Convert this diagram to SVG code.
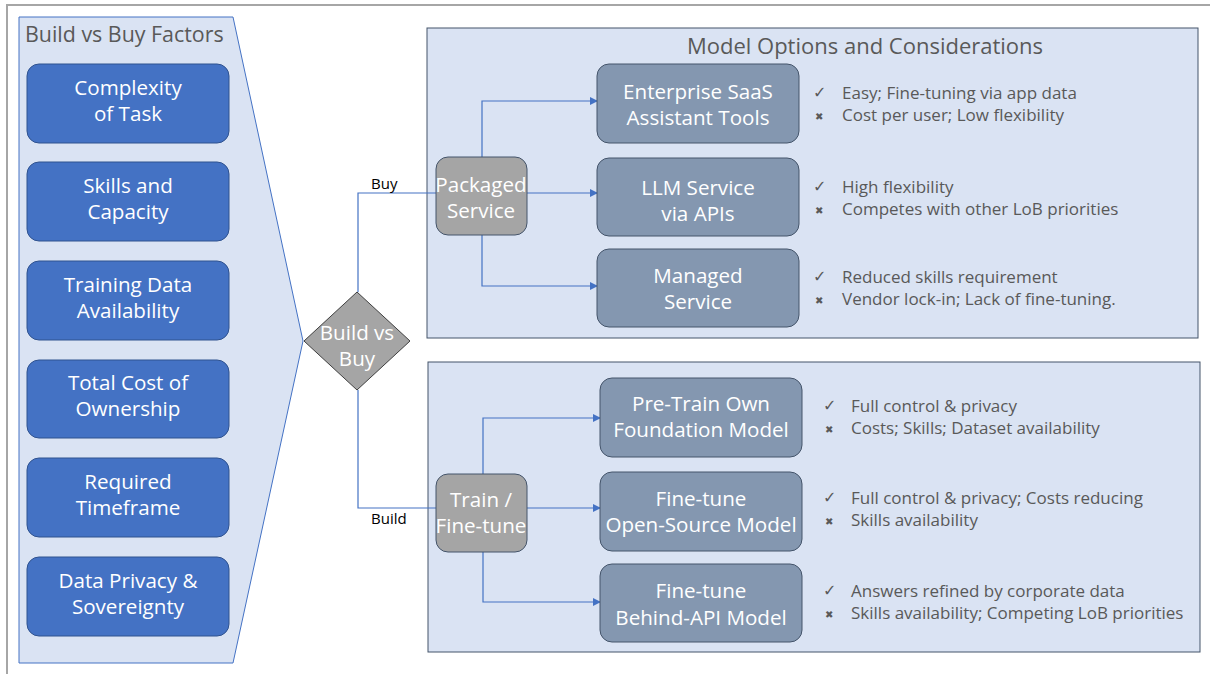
<svg xmlns="http://www.w3.org/2000/svg" width="1210" height="674" viewBox="0 0 1210 674">
<style>
.t{font-family:"Open Sans","Noto Sans","Liberation Sans",sans-serif}
.factor rect{fill:#4472c4;stroke:#2f528f;stroke-width:1}
.wt{fill:#ffffff;font-size:20.6px;text-anchor:middle}
.gray rect{fill:#a5a5a5;stroke:#44546a;stroke-width:1}
.opt rect{fill:#8497b0;stroke:#44546a;stroke-width:1}
.panel{fill:#dae3f3;stroke:#44546a;stroke-width:1}
.gt{fill:#595959}
.pc{fill:#595959;font-size:17px}
.mk{fill:#595959;font-size:16px;font-family:"DejaVu Sans",sans-serif}
.mx{fill:#595959;font-size:10px;font-family:"DejaVu Sans",sans-serif}
.conn{fill:none;stroke:#4472c4;stroke-width:1.2}
.lbl{fill:#000;font-size:15px}
</style>
<defs>
<marker id="ah" markerWidth="8" markerHeight="8" refX="7" refY="4" orient="auto" markerUnits="userSpaceOnUse">
<path d="M0,0 L8,4 L0,8 Z" fill="#4472c4"/>
</marker>
</defs>
<rect x="0" y="0" width="1210" height="674" fill="#ffffff"/>
<path d="M7,674 L7,5 L1210,5" fill="none" stroke="#a6a6a6" stroke-width="2"/>

<g id="factors-panel">
<path d="M19,17 L233,17 L303,341 L233,663 L19,663 Z" fill="#dae3f3" stroke="#4472c4" stroke-width="1"/>
<text class="t gt" x="25" y="42" font-size="21.4">Build vs Buy Factors</text>
</g>
<g id="f1" class="factor"><rect x="27" y="64" width="202" height="79" rx="12"/><text class="t wt" x="128" y="95">Complexity</text><text class="t wt" x="128" y="121">of Task</text></g>
<g id="f2" class="factor"><rect x="27" y="162" width="202" height="79" rx="12"/><text class="t wt" x="128" y="193">Skills and</text><text class="t wt" x="128" y="219">Capacity</text></g>
<g id="f3" class="factor"><rect x="27" y="261" width="202" height="79" rx="12"/><text class="t wt" x="128" y="292">Training Data</text><text class="t wt" x="128" y="318">Availability</text></g>
<g id="f4" class="factor"><rect x="27" y="360" width="202" height="78" rx="12"/><text class="t wt" x="128" y="390">Total Cost of</text><text class="t wt" x="128" y="416">Ownership</text></g>
<g id="f5" class="factor"><rect x="27" y="458" width="202" height="79" rx="12"/><text class="t wt" x="128" y="489">Required</text><text class="t wt" x="128" y="515">Timeframe</text></g>
<g id="f6" class="factor"><rect x="27" y="557" width="202" height="79" rx="12"/><text class="t wt" x="128" y="588">Data Privacy &amp;</text><text class="t wt" x="128" y="614">Sovereignty</text></g>

<g id="buy-panel">
<rect class="panel" x="427" y="28" width="771" height="310"/>
<text class="t gt" x="865" y="54" font-size="22" text-anchor="middle">Model Options and Considerations</text>
</g>
<g id="build-panel">
<rect class="panel" x="428" y="362" width="772" height="290"/>
</g>

<g id="connectors">
<polyline class="conn" points="358,292 358,193 436,193"/>
<polyline class="conn" points="358,390 358,508 436,508"/>
<polyline class="conn" points="482,157 482,101 597,101" marker-end="url(#ah)"/>
<polyline class="conn" points="527,193 597,193" marker-end="url(#ah)"/>
<polyline class="conn" points="482,235 482,286 597,286" marker-end="url(#ah)"/>
<polyline class="conn" points="483,474 483,418 600,418" marker-end="url(#ah)"/>
<polyline class="conn" points="527,508 600,508" marker-end="url(#ah)"/>
<polyline class="conn" points="483,552 483,602 600,602" marker-end="url(#ah)"/>
<text class="t lbl" x="371" y="189">Buy</text>
<text class="t lbl" x="371" y="524">Build</text>
</g>

<g id="decision">
<path d="M357,292 L410,341 L357,390 L304,341 Z" fill="#a5a5a5" stroke="#404040" stroke-width="1"/>
<text class="t wt" x="357" y="340">Build vs</text><text class="t wt" x="357" y="366">Buy</text>
</g>

<g id="packaged" class="gray"><rect x="436" y="157" width="91" height="78" rx="12"/><text class="t wt" x="481" y="192">Packaged</text><text class="t wt" x="481" y="218">Service</text></g>
<g id="train" class="gray"><rect x="436" y="474" width="91" height="78" rx="12"/><text class="t wt" x="481" y="507">Train /</text><text class="t wt" x="481" y="533">Fine-tune</text></g>

<g id="o1" class="opt"><rect x="597" y="64" width="202" height="79" rx="12"/><text class="t wt" x="698" y="99">Enterprise SaaS</text><text class="t wt" x="698" y="125">Assistant Tools</text></g>
<g id="o2" class="opt"><rect x="597" y="158" width="202" height="78" rx="12"/><text class="t wt" x="698" y="195">LLM Service</text><text class="t wt" x="698" y="221">via APIs</text></g>
<g id="o3" class="opt"><rect x="597" y="249" width="202" height="78" rx="12"/><text class="t wt" x="698" y="283">Managed</text><text class="t wt" x="698" y="309">Service</text></g>
<g id="o4" class="opt"><rect x="600" y="378" width="202" height="79" rx="12"/><text class="t wt" x="701" y="411">Pre-Train Own</text><text class="t wt" x="701" y="437">Foundation Model</text></g>
<g id="o5" class="opt"><rect x="600" y="472" width="202" height="79" rx="12"/><text class="t wt" x="701" y="506">Fine-tune</text><text class="t wt" x="701" y="532">Open-Source Model</text></g>
<g id="o6" class="opt"><rect x="600" y="564" width="202" height="78" rx="12"/><text class="t wt" x="701" y="598">Fine-tune</text><text class="t wt" x="701" y="625">Behind-API Model</text></g>

<g id="pc1"><text class="mk" x="813" y="98">✓</text><text class="mx" x="815" y="120">✖</text><text class="t pc" x="842" y="99">Easy; Fine-tuning via app data</text><text class="t pc" x="842" y="121">Cost per user; Low flexibility</text></g>
<g id="pc2"><text class="mk" x="813" y="192">✓</text><text class="mx" x="815" y="214">✖</text><text class="t pc" x="842" y="193">High flexibility</text><text class="t pc" x="842" y="215">Competes with other LoB priorities</text></g>
<g id="pc3"><text class="mk" x="813" y="282">✓</text><text class="mx" x="815" y="304">✖</text><text class="t pc" x="842" y="283">Reduced skills requirement</text><text class="t pc" x="842" y="305">Vendor lock-in; Lack of fine-tuning.</text></g>
<g id="pc4"><text class="mk" x="823" y="411">✓</text><text class="mx" x="825" y="433">✖</text><text class="t pc" x="851" y="412">Full control &amp; privacy</text><text class="t pc" x="851" y="434">Costs; Skills; Dataset availability</text></g>
<g id="pc5"><text class="mk" x="823" y="503">✓</text><text class="mx" x="825" y="525">✖</text><text class="t pc" x="851" y="504">Full control &amp; privacy; Costs reducing</text><text class="t pc" x="851" y="526">Skills availability</text></g>
<g id="pc6"><text class="mk" x="823" y="596">✓</text><text class="mx" x="825" y="618">✖</text><text class="t pc" x="851" y="597">Answers refined by corporate data</text><text class="t pc" x="851" y="619">Skills availability; Competing LoB priorities</text></g>
</svg>
